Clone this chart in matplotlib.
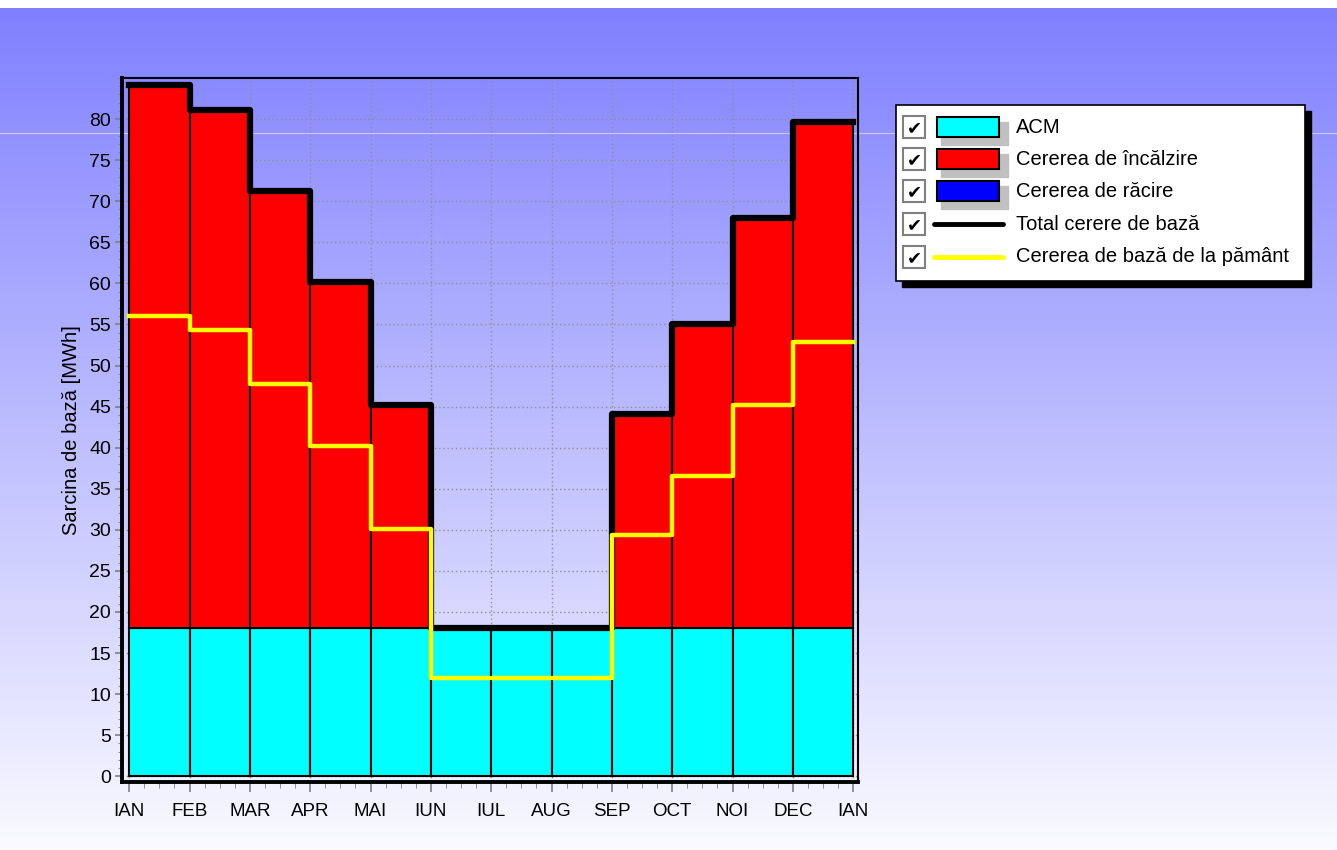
import numpy as np
import matplotlib
matplotlib.use("Agg")
import matplotlib.pyplot as plt
from matplotlib.patches import Rectangle
from matplotlib.lines import Line2D
from matplotlib.ticker import MultipleLocator

plt.rcParams['font.family'] = ['Liberation Sans', 'DejaVu Sans']

# monthly values (MWh)
months = ["IAN", "FEB", "MAR", "APR", "MAI", "IUN", "IUL", "AUG", "SEP", "OCT", "NOI", "DEC", "IAN"]
acm = [18, 18, 18, 18, 18, 18, 18, 18, 18, 18, 18, 18]
total = [84.1, 81.1, 71.3, 60.2, 45.2, 18, 18, 18, 44.1, 55.1, 67.9, 79.6]
ground = [56.0, 54.3, 47.8, 40.2, 30.1, 12.0, 12.0, 12.0, 29.4, 36.6, 45.2, 52.9]
cooling = [0] * 12

legend_labels = ["ACM", "Cererea de încălzire", "Cererea de răcire",
                 "Total cerere de bază", "Cererea de bază de la pământ"]

W, H = 1337, 850
fig = plt.figure(figsize=(W / 100, H / 100), dpi=100)

# gradient background
bg = fig.add_axes([0, 0, 1, 1], zorder=-10)
grad = np.linspace(0, 1, 256)[:, None]
top_c = np.array([128, 128, 255]) / 255
bot_c = np.array([250, 250, 255]) / 255
img = top_c[None, None, :] * (1 - grad[:, :, None]) + bot_c[None, None, :] * grad[:, :, None]
bg.imshow(img, aspect='auto', extent=[0, W, H, 8])
bg.set_xlim(0, W)
bg.set_ylim(H, 0)
bg.axhline(133, color='#c8c8ff', lw=0.8)
bg.axis('off')

ax = fig.add_axes([122 / W, 1 - 782 / H, (858 - 122) / W, (782 - 78) / H])
ax.patch.set_alpha(0)

x = np.arange(12)
heat = np.array(total) - np.array(acm)
ax.bar(x, acm, width=1, align='edge', color='#00ffff', edgecolor='black', lw=1.5, zorder=3)
ax.bar(x, heat, bottom=acm, width=1, align='edge', color='#ff0000', edgecolor='black', lw=1.5, zorder=3)
ax.bar(x, cooling, bottom=total, width=1, align='edge', color='#0000ff', lw=0, zorder=3)

xs = np.arange(13)
ax.step(xs, total + [total[-1]], where='post', color='black', lw=4.5, zorder=4)
ax.step(xs, ground + [ground[-1]], where='post', color='#ffff00', lw=3.2, zorder=5)

ax.set_xlim(-0.12, 12.08)
ax.set_ylim(-0.7, 85)
ax.set_xticks(xs)
ax.set_xticklabels(months, fontsize=13.5)
ax.xaxis.set_minor_locator(MultipleLocator(0.25))
ax.yaxis.set_minor_locator(MultipleLocator(1))
ax.set_yticks(np.arange(0, 85, 5))
ax.tick_params(axis='y', labelsize=14, length=5, color='#808080', width=1.2, pad=3)
ax.tick_params(axis='y', which='minor', length=3, color='#808080')
ax.tick_params(axis='x', length=7, color='#808080', width=1.2, pad=8)
ax.tick_params(axis='x', which='minor', length=4, color='#808080')
ax.grid(True, which='major', color='#909090', linestyle=(0, (1, 2)), lw=1, zorder=1)
ax.set_axisbelow(True)
for s in ['left', 'bottom']:
    ax.spines[s].set_linewidth(2.8)
for s in ['top', 'right']:
    ax.spines[s].set_linewidth(1.5)
ax.set_ylabel("Sarcina de bază [MWh]", fontsize=14.5, labelpad=6)

# legend drawn in pixel coords
ov = fig.add_axes([0, 0, 1, 1], zorder=10)
ov.set_xlim(0, W)
ov.set_ylim(H, 0)
ov.axis('off')
ov.patch.set_alpha(0)
ov.add_patch(Rectangle((902, 111), 409, 176, color='black'))
ov.add_patch(Rectangle((896, 105), 409, 176, facecolor='white', edgecolor='black', lw=1.2))
rows = [127, 159, 191, 224, 257]
patch_colors = ['#00ffff', '#ff0000', '#0000ff']
line_colors = ['black', '#ffff00']
for i, (yc, lab) in enumerate(zip(rows, legend_labels)):
    ov.add_patch(Rectangle((903, yc - 11), 22, 22, facecolor='white', edgecolor='#808080', lw=1.5))
    ov.text(914, yc + 1, "✔", ha='center', va='center', fontsize=13, family='DejaVu Sans')
    if i < 3:
        ov.add_patch(Rectangle((941, yc - 5), 67, 23, color='#c0c0c0'))
        ov.add_patch(Rectangle((937, yc - 10), 62, 20, facecolor=patch_colors[i], edgecolor='black', lw=1.5))
    else:
        ov.add_line(Line2D([934, 1003], [yc, yc], color=line_colors[i - 3], lw=3.5, solid_capstyle='round'))
    ov.text(1016, yc, lab, ha='left', va='center', fontsize=14.5)

fig.savefig("out.png", dpi=100)
